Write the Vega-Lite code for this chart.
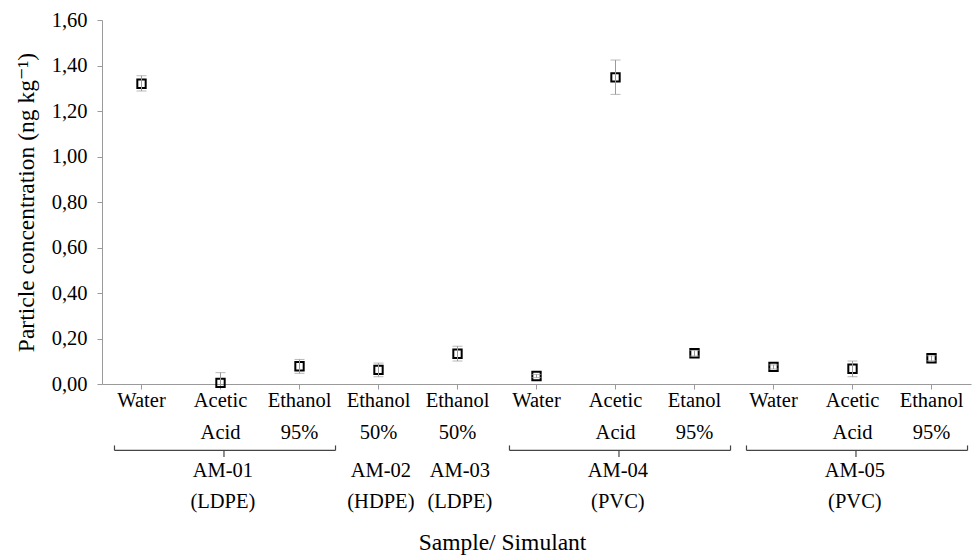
{
  "$schema": "https://vega.github.io/schema/vega-lite/v6.json",
  "width": 869,
  "height": 364,
  "autosize": {"type": "none"},
  "padding": {"left": 102, "top": 20, "right": 5, "bottom": 171},
  "background": "white",
  "config": {
    "view": {"stroke": null},
    "font": "'Liberation Serif', Tinos, 'Times New Roman', 'DejaVu Serif', serif",
    "axis": {
      "labelFont": "'Liberation Serif', Tinos, 'Times New Roman', 'DejaVu Serif', serif",
      "titleFont": "'Liberation Serif', Tinos, 'Times New Roman', 'DejaVu Serif', serif",
      "labelColor": "black",
      "titleColor": "black",
      "domainColor": "#9a9a9a",
      "tickColor": "#9a9a9a",
      "grid": false,
      "labelFontSize": 20.5,
      "titleFontSize": 23.5,
      "titleFontWeight": "normal"
    },
    "text": {"font": "'Liberation Serif', Tinos, 'Times New Roman', 'DejaVu Serif', serif"}
  },
  "datasets": {
    "points": [
      {"cat": "AM-01/Water", "value": 1.32, "low": 1.288, "high": 1.355},
      {"cat": "AM-01/Acetic Acid", "value": 0.005, "low": 0.0, "high": 0.05},
      {"cat": "AM-01/Ethanol 95%", "value": 0.078, "low": 0.047, "high": 0.108},
      {"cat": "AM-02/Ethanol 50%", "value": 0.062, "low": 0.032, "high": 0.092},
      {"cat": "AM-03/Ethanol 50%", "value": 0.133, "low": 0.101, "high": 0.166},
      {"cat": "AM-04/Water", "value": 0.035, "low": 0.028, "high": 0.042},
      {"cat": "AM-04/Acetic Acid", "value": 1.348, "low": 1.273, "high": 1.424},
      {"cat": "AM-04/Etanol 95%", "value": 0.135, "low": 0.123, "high": 0.147},
      {"cat": "AM-05/Water", "value": 0.075, "low": 0.066, "high": 0.084},
      {"cat": "AM-05/Acetic Acid", "value": 0.067, "low": 0.032, "high": 0.101},
      {"cat": "AM-05/Ethanol 95%", "value": 0.113, "low": 0.102, "high": 0.124}
    ],
    "groups": [
      {"sample": "AM-01", "material": "(LDPE)", "first": "AM-01/Water", "mid": "AM-01/Acetic Acid", "last": "AM-01/Ethanol 95%", "bracket": "yes"},
      {"sample": "AM-02", "material": "(HDPE)", "first": "AM-02/Ethanol 50%", "mid": "AM-02/Ethanol 50%", "last": "AM-02/Ethanol 50%", "bracket": "no"},
      {"sample": "AM-03", "material": "(LDPE)", "first": "AM-03/Ethanol 50%", "mid": "AM-03/Ethanol 50%", "last": "AM-03/Ethanol 50%", "bracket": "no"},
      {"sample": "AM-04", "material": "(PVC)", "first": "AM-04/Water", "mid": "AM-04/Acetic Acid", "last": "AM-04/Etanol 95%", "bracket": "yes"},
      {"sample": "AM-05", "material": "(PVC)", "first": "AM-05/Water", "mid": "AM-05/Acetic Acid", "last": "AM-05/Ethanol 95%", "bracket": "yes"}
    ]
  },
  "layer": [
    {
      "data": {"name": "points"},
      "mark": {"type": "point", "shape": "square", "filled": false, "stroke": "black", "strokeWidth": 2, "size": 70, "opacity": 1},
      "encoding": {
        "x": {
          "field": "cat", "type": "nominal", "bandPosition": 0.5,
          "scale": {"type": "band", "paddingInner": 0, "paddingOuter": 0,
            "domain": ["AM-01/Water", "AM-01/Acetic Acid", "AM-01/Ethanol 95%", "AM-02/Ethanol 50%", "AM-03/Ethanol 50%", "AM-04/Water", "AM-04/Acetic Acid", "AM-04/Etanol 95%", "AM-05/Water", "AM-05/Acetic Acid", "AM-05/Ethanol 95%"]},
          "axis": {
            "title": "Sample/ Simulant",
            "labelExpr": "split(slice(datum.label, 6), ' ')",
            "labelAngle": 0,
            "labelOverlap": false,
            "tickSize": 5,
            "labelPadding": 1,
            "labelLineHeight": 32.5,
            "titleX": 400,
            "titleY": 146
          }
        },
        "y": {
          "field": "value", "type": "quantitative",
          "scale": {"domain": [0, 1.6], "nice": false},
          "axis": {
            "title": "Particle concentration (ng kg⁻¹)",
            "values": [0, 0.2, 0.4, 0.6, 0.8, 1.0, 1.2, 1.4, 1.6],
            "labelExpr": "replace(format(datum.value, '.2f'), '.', ',')",
            "tickSize": 5,
            "labelPadding": 10,
            "titlePadding": 13
          }
        }
      }
    },
    {
      "data": {"name": "points"},
      "mark": {"type": "rule", "color": "#9a9a9a", "strokeWidth": 1},
      "encoding": {
        "x": {"field": "cat", "type": "nominal", "bandPosition": 0.5},
        "y": {"field": "low", "type": "quantitative"},
        "y2": {"field": "high"}
      }
    },
    {
      "data": {"name": "points"},
      "mark": {"type": "tick", "orient": "horizontal", "size": 10, "thickness": 1, "color": "#9a9a9a"},
      "encoding": {
        "x": {"field": "cat", "type": "nominal", "bandPosition": 0.5},
        "y": {"field": "high", "type": "quantitative"}
      }
    },
    {
      "data": {"name": "points"},
      "transform": [{"filter": "datum.low > 0"}],
      "mark": {"type": "tick", "orient": "horizontal", "size": 10, "thickness": 1, "color": "#9a9a9a"},
      "encoding": {
        "x": {"field": "cat", "type": "nominal", "bandPosition": 0.5},
        "y": {"field": "low", "type": "quantitative"}
      }
    },
    {
      "data": {"name": "groups"},
      "transform": [{"filter": "datum.bracket == 'yes'"}],
      "mark": {"type": "rule", "color": "#444444", "strokeWidth": 1.2},
      "encoding": {
        "x": {"field": "first", "type": "nominal", "bandPosition": 0.158},
        "x2": {"field": "last", "bandPosition": 0.956},
        "y": {"datum": -0.292, "type": "quantitative"}
      }
    },
    {
      "data": {"name": "groups"},
      "transform": [{"filter": "datum.bracket == 'yes'"}],
      "mark": {"type": "rule", "color": "#444444", "strokeWidth": 1.2},
      "encoding": {
        "x": {"field": "first", "type": "nominal", "bandPosition": 0.158},
        "y": {"datum": -0.292, "type": "quantitative"},
        "y2": {"datum": -0.270}
      }
    },
    {
      "data": {"name": "groups"},
      "transform": [{"filter": "datum.bracket == 'yes'"}],
      "mark": {"type": "rule", "color": "#444444", "strokeWidth": 1.2},
      "encoding": {
        "x": {"field": "last", "type": "nominal", "bandPosition": 0.956},
        "y": {"datum": -0.292, "type": "quantitative"},
        "y2": {"datum": -0.270}
      }
    },
    {
      "data": {"name": "groups"},
      "transform": [{"filter": "datum.bracket == 'yes'"}],
      "mark": {"type": "rule", "color": "#444444", "strokeWidth": 1.2},
      "encoding": {
        "x": {"field": "mid", "type": "nominal", "bandPosition": 0.544},
        "y": {"datum": -0.292, "type": "quantitative"},
        "y2": {"datum": -0.321}
      }
    },
    {
      "data": {"name": "groups"},
      "mark": {"type": "text", "font": "'Liberation Serif', Tinos, 'Times New Roman', 'DejaVu Serif', serif", "fontSize": 20.5, "color": "black", "baseline": "middle", "align": "center"},
      "encoding": {
        "x": {"field": "mid", "type": "nominal", "bandPosition": 0.53},
        "y": {"datum": -0.382, "type": "quantitative"},
        "text": {"field": "sample"}
      }
    },
    {
      "data": {"name": "groups"},
      "mark": {"type": "text", "font": "'Liberation Serif', Tinos, 'Times New Roman', 'DejaVu Serif', serif", "fontSize": 20.5, "color": "black", "baseline": "middle", "align": "center"},
      "encoding": {
        "x": {"field": "mid", "type": "nominal", "bandPosition": 0.53},
        "y": {"datum": -0.519, "type": "quantitative"},
        "text": {"field": "material"}
      }
    }
  ]
}
